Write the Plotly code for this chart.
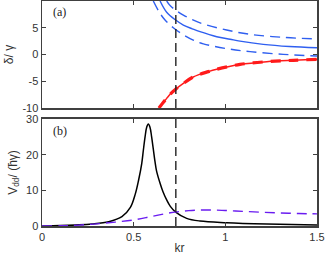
import plotly.graph_objects as go

# ---------- data ----------
# panel (a)
blue_solid_kr = [0.644, 0.68, 0.729, 0.771, 0.82, 0.862, 0.953, 1.026, 1.08, 1.207, 1.35, 1.5]
blue_solid_d  = [10.0, 7.9, 6.44, 5.5, 4.8, 4.26, 3.32, 2.85, 2.5, 1.9, 1.5, 1.27]

blue_up_kr = [0.68, 0.70, 0.729, 0.771, 0.82, 0.88, 1.007, 1.135, 1.316, 1.5]
blue_up_d  = [10.0, 9.1, 8.3, 7.37, 6.5, 5.7, 4.57, 3.77, 3.2, 2.9]

blue_lo_kr = [0.607, 0.64, 0.671, 0.716, 0.771, 0.825, 0.88, 1.007, 1.135, 1.316, 1.5]
blue_lo_d  = [10.0, 7.9, 6.44, 5.0, 3.7, 2.7, 2.0, 1.1, 0.53, 0.03, -0.28]

red_kr = [0.638, 0.66, 0.68, 0.70, 0.729, 0.771, 0.825, 0.907, 0.953, 1.08, 1.226, 1.371, 1.5]
red_d  = [-10.0, -9.0, -8.2, -7.4, -6.5, -5.4, -4.2, -3.2, -2.75, -1.85, -1.34, -1.08, -0.9]

# panel (b)
vdd_kr = [0.0, 0.1, 0.18, 0.273, 0.364, 0.436, 0.482, 0.509, 0.527, 0.544, 0.553, 0.562, 0.571,
          0.58, 0.589, 0.598, 0.607, 0.616, 0.625, 0.644, 0.66, 0.68, 0.70, 0.729, 0.789,
          0.862, 1.007, 1.226, 1.5]
vdd_v  = [0.0, 0.12, 0.28, 0.56, 1.2, 2.6, 5.2, 9.0, 12.9, 17.5, 21.3, 24.9, 27.7,
          28.6, 27.7, 25.0, 21.6, 18.2, 15.4, 12.0, 9.6, 7.3, 5.5, 3.9, 2.15,
          1.4, 0.93, 0.56, 0.28]

purple_kr = [0.0, 0.1, 0.2, 0.3, 0.4, 0.5, 0.6, 0.7, 0.8, 0.9, 1.0, 1.1, 1.2, 1.3, 1.4, 1.5]
purple_v  = [0.0, 0.05, 0.25, 0.6, 1.1, 1.7, 2.7, 3.7, 4.3, 4.5, 4.35, 4.1, 3.85, 3.65, 3.5, 3.4]

vline_kr = 0.73

x_ticks = [0, 0.5, 1, 1.5]
x_ticklabels = ["0", "0.5", "1", "1.5"]
ya_ticks = [-10, -5, 0, 5, 10]
ya_ticklabels = ["-10", "-5", "0", "5", ""]
yb_ticks = [0, 10, 20, 30]
yb_ticklabels = ["0", "10", "20", "30"]

# ---------- figure ----------
fig = go.Figure()

BLUE = "#2f5ff0"
RED = "#ff1a1a"
PURPLE = "#6a1cf0"
DASH = "10px,6px"
FONT = "Liberation Sans, Arial"
TXT = "#333333"

fig.add_trace(go.Scatter(x=blue_solid_kr, y=blue_solid_d, mode="lines", line=dict(color=BLUE, width=1.4, shape="spline"), xaxis="x2", yaxis="y2"))
fig.add_trace(go.Scatter(x=blue_up_kr, y=blue_up_d, mode="lines", line=dict(color=BLUE, width=1.4, dash=DASH, shape="spline"), xaxis="x2", yaxis="y2"))
fig.add_trace(go.Scatter(x=blue_lo_kr, y=blue_lo_d, mode="lines", line=dict(color=BLUE, width=1.4, dash=DASH, shape="spline"), xaxis="x2", yaxis="y2"))
fig.add_trace(go.Scatter(x=red_kr, y=red_d, mode="lines", line=dict(color=RED, width=1.5, shape="spline"), xaxis="x2", yaxis="y2"))
fig.add_trace(go.Scatter(x=red_kr, y=red_d, mode="lines", line=dict(color=RED, width=3.2, dash="10px,8px", shape="spline"), xaxis="x2", yaxis="y2"))
fig.add_trace(go.Scatter(x=[vline_kr, vline_kr], y=[-10, 10], mode="lines", line=dict(color="#222222", width=1.4, dash="9px,5px"), xaxis="x2", yaxis="y2"))

fig.add_trace(go.Scatter(x=vdd_kr, y=vdd_v, mode="lines", line=dict(color="black", width=1.5, shape="spline"), xaxis="x", yaxis="y"))
fig.add_trace(go.Scatter(x=purple_kr, y=purple_v, mode="lines", line=dict(color=PURPLE, width=1.4, dash=DASH, shape="spline"), xaxis="x", yaxis="y"))
fig.add_trace(go.Scatter(x=[vline_kr, vline_kr], y=[0, 30], mode="lines", line=dict(color="#222222", width=1.4, dash="9px,5px"), xaxis="x", yaxis="y"))

AX = dict(showline=True, linecolor="#404040", linewidth=1.5, mirror="ticks", ticks="inside",
          ticklen=4, tickcolor="#404040", showgrid=False, zeroline=False,
          ticklabeloverflow="allow", automargin=False,
          tickfont=dict(family=FONT, size=11, color=TXT))

fig.update_layout(
    width=325, height=260,
    margin=dict(l=42, r=8, t=1, b=34),
    plot_bgcolor="white", paper_bgcolor="white",
    showlegend=False,
    hovermode=False,
    xaxis=dict(AX, domain=[0, 1], range=[0, 1.5], tickvals=x_ticks, ticktext=x_ticklabels, anchor="y",
               title=dict(text="kr", font=dict(family=FONT, size=12, color=TXT), standoff=2)),
    yaxis=dict(AX, domain=[0, 0.4756], range=[0, 30], tickvals=yb_ticks, ticktext=yb_ticklabels, anchor="x",
               title=dict(text="V<sub>dd</sub>/ (ħγ)", font=dict(family=FONT, size=12, color=TXT), standoff=6)),
    xaxis2=dict(AX, domain=[0, 1], range=[0, 1.5], tickvals=x_ticks, showticklabels=False, anchor="y2"),
    yaxis2=dict(AX, domain=[0.5244, 1.0], range=[-10, 10], tickvals=ya_ticks, ticktext=ya_ticklabels, anchor="x2",
                title=dict(text="δ/ γ", font=dict(family=FONT, size=12, color=TXT), standoff=6)),
    annotations=[
        dict(text="(a)", xref="x2", yref="y2", x=0.05, y=8.0, xanchor="left", yanchor="middle", showarrow=False,
             font=dict(family="Liberation Serif, Times New Roman", size=12, color="#222222")),
        dict(text="(b)", xref="x", yref="y", x=0.05, y=26.5, xanchor="left", yanchor="middle", showarrow=False,
             font=dict(family="Liberation Serif, Times New Roman", size=12, color="#222222")),
    ],
)

# remove the default page margin so the 325x260 figure fills the window exactly
fig.write_html("out.html", config={"displayModeBar": False, "staticPlot": True},
               post_script="document.body.style.margin='0';")
